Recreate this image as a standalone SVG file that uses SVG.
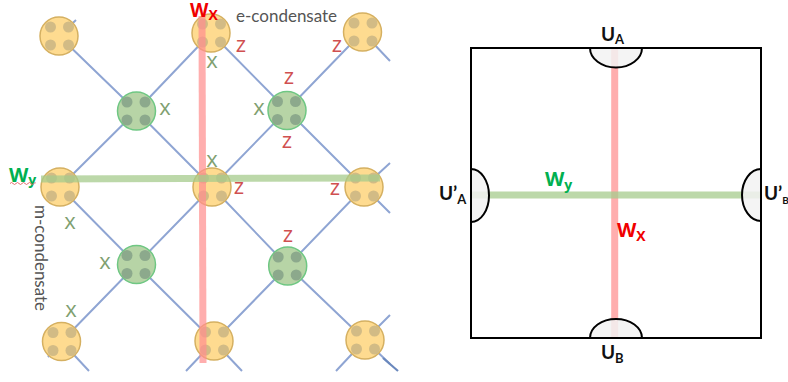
<svg xmlns="http://www.w3.org/2000/svg" width="788" height="382" viewBox="0 0 788 382">
<style>
.e{stroke:#8fa5d3;stroke-width:2;fill:none}
.y{fill:#fedb90;stroke:#d5b061;stroke-width:1.500}
.yd{fill:#d2bb85}
.g{fill:#b7d4a6;stroke:#6fc783;stroke-width:1.500}
.gd{fill:#8ca98c}
.rb{stroke:#ff8f8f;stroke-opacity:.72;stroke-width:7;fill:none}
.gb{stroke:#a5cb8c;stroke-opacity:.75;stroke-width:7;fill:none}
text{font-family:"Lato","Open Sans","Liberation Sans",sans-serif}
.x{fill:#80a070;font-size:22px;text-anchor:middle;font-family:"Open Sans","Liberation Sans",sans-serif}
.z{fill:#d05050;font-size:22px;text-anchor:middle;font-family:"Open Sans","Liberation Sans",sans-serif}
.c{fill:#555;font-size:17px}
.b{font-weight:700;font-size:20px;font-family:"Open Sans","Liberation Sans",sans-serif}
.u{font-weight:700;font-size:19px;fill:#111}
.s{font-size:13px}
.cap{fill:#f2f2f2;fill-opacity:.85;stroke:#000;stroke-width:2}
</style>
<defs>
<g id="yn"><circle r="19" class="y"/><circle cx="-8.500" cy="-9" r="5.500" class="yd"/><circle cx="9.500" cy="-9" r="5.500" class="yd"/><circle cx="-8.500" cy="9" r="5.500" class="yd"/><circle cx="9.500" cy="9" r="5.500" class="yd"/></g>
<g id="gn"><circle r="19" class="g"/><circle cx="-9.500" cy="-9" r="5.500" class="gd"/><circle cx="8.500" cy="-9" r="5.500" class="gd"/><circle cx="-9.500" cy="9" r="5.500" class="gd"/><circle cx="8.500" cy="9" r="5.500" class="gd"/></g>
</defs>
<g id="connectors">
<path class="e" d="M59 36L136.500 111L212 187L287.700 266L365 340L390 364"/>
<path class="e" d="M211 33L287 110L364 187L390 213"/>
<path class="e" d="M60 187L136.500 264.500L214 341.500L242 371"/>
<path class="e" d="M61.500 341.500L136.500 264.500L212 187L287 110L362.500 32"/>
<path class="e" d="M60 187L136.500 111L211 33"/>
<path class="e" d="M214 341.500L287.700 266L364 187L390 163"/>
<path class="e" d="M61.500 341.500L89 371M61.500 341.500L48 357M214 341.500L186 371M365 340L336 371M365 340L390 315M362.500 32L390 61M59 36L76 20"/>
<path d="M383 358L398 371" fill="none" stroke="#6a88bd" stroke-width="2.200"/>
</g>
<g id="n1"><use href="#yn" x="59" y="36"/></g>
<g id="n2"><use href="#yn" x="211" y="33"/></g>
<g id="n3"><use href="#yn" x="362.500" y="32"/></g>
<g id="n4"><use href="#yn" x="60" y="187"/></g>
<g id="n5"><use href="#yn" x="212" y="187"/></g>
<g id="n6"><use href="#yn" x="364" y="187"/></g>
<g id="n7"><use href="#yn" x="61.500" y="341.500"/></g>
<g id="n8"><use href="#yn" x="214" y="341"/></g>
<g id="n9"><use href="#yn" x="365" y="340"/></g>
<g id="n10"><use href="#gn" x="136.500" y="111"/></g>
<g id="n11"><use href="#gn" x="287" y="110.500"/></g>
<g id="n12"><use href="#gn" x="136.500" y="264.500"/></g>
<g id="n13"><use href="#gn" x="287.700" y="266"/></g>
<g id="loops-left">
<path class="rb" d="M202 16L203 363"/>
<path class="gb" d="M41 179L380 178"/>
</g>
<g id="labels-left">
<text class="b" x="190" y="17" fill="#f00000" style="font-size:19px">W<tspan font-size="14" dy="3">X</tspan></text>
<text class="b" x="9" y="182" fill="#00b050">W<tspan font-size="14" dy="3">y</tspan></text>
<path d="M10 183.500q1.500-2 3 0t3 0t3 0t3 0t3 0t3 0t3 0t3 0t1 0" fill="none" stroke="#e06060" stroke-width=".9"/>
<text class="c" x="236" y="22">e-condensate</text>
<text class="c" transform="translate(35 205) rotate(90)">m-condensate</text>
<text class="x" x="212" y="68">x</text><text class="x" x="165" y="115">x</text><text class="x" x="212" y="167">x</text><text class="x" x="259" y="115">x</text>
<text class="x" x="70" y="229">x</text><text class="x" x="105" y="269">x</text><text class="x" x="71" y="317">x</text>
<text class="z" x="241" y="52">z</text><text class="z" x="337" y="52">z</text><text class="z" x="289" y="84">z</text><text class="z" x="287" y="148">z</text>
<text class="z" x="239" y="194">z</text><text class="z" x="335" y="195">z</text><text class="z" x="288" y="242">z</text>
</g>
<g id="square">
<rect x="471" y="48" width="290" height="290" fill="none" stroke="#000" stroke-width="2"/>
<path class="rb" d="M614.700 48V338"/>
<path class="gb" d="M471 195H761"/>
<path class="cap" d="M590 48A26 19.500 0 0 0 642 48Z"/>
<path class="cap" d="M590 338A26 19 0 0 1 642 338Z"/>
<path class="cap" d="M471 169A18 26.500 0 0 1 471 222Z"/>
<path class="cap" d="M761 169A19 26 0 0 0 761 221Z"/>
</g>
<g id="labels-right">
<text class="u" x="601" y="41">U<tspan class="s" dy="3">A</tspan></text>
<text class="u" x="601" y="359">U<tspan class="s" dy="4">B</tspan></text>
<text class="u" x="439" y="200">U’<tspan class="s" dy="4">A</tspan></text>
<text class="u" x="764" y="200">U’<tspan font-size="10" dy="4">B</tspan></text>
<text class="b" x="545" y="186" fill="#00b050">W<tspan font-size="14" dy="4">y</tspan></text>
<text class="b" x="617" y="237" fill="#f00000">W<tspan font-size="14" dy="4">X</tspan></text>
</g>
</svg>
